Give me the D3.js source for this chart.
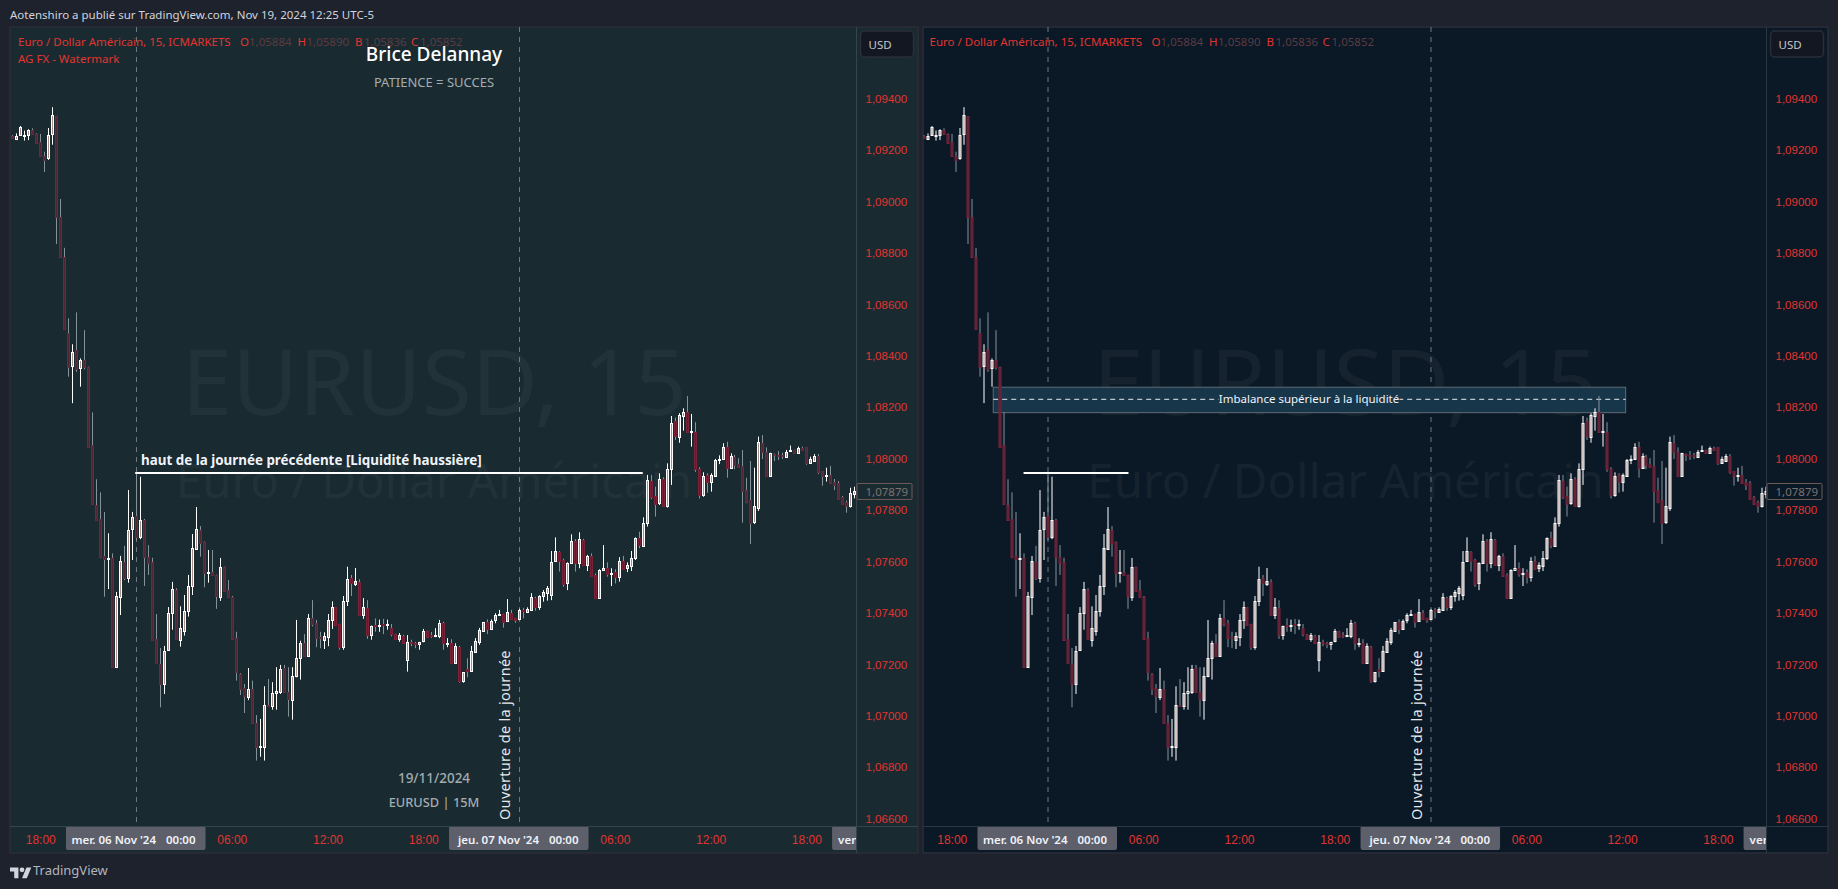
<!DOCTYPE html>
<html>
<head>
<meta charset="utf-8">
<script src="https://cdn.jsdelivr.net/npm/d3@7"></script>
<style>
  html, body { margin: 0; padding: 0; background: #1e222d; overflow: hidden; }
  svg { display: block; font-family: "Noto Sans", sans-serif; }
</style>
</head>
<body>
<svg id="chart"></svg>
<script>
// EURUSD 15 min candles, in 1/100000 of a dollar
const opens = [
  109256,109244,109259,109258,109259,109278,109261,109230,109178,109168,
  109261,109332,108941,108783,108487,108361,108422,108351,108384,108355,
  108052,107819,107765,107623,107609,107613,107190,107462,107598,107537,
  107726,107777,107697,107762,107617,107598,107299,107201,107125,107257,
  107399,107489,107296,107331,107409,107506,107650,107723,107675,107556,
  107559,107547,107461,107578,107489,107461,107302,107163,107107,107075,
  107104,106972,106881,106878,107043,107037,107089,107092,107185,107092,
  107063,107154,107224,107283,107234,107379,107361,107306,107296,107308,
  107373,107422,107357,107267,107448,107535,107514,107522,107393,107418,
  107314,107353,107353,107356,107355,107341,107317,107299,107312,107216,
  107286,107283,107278,107292,107329,107314,107313,107312,107361,107282,
  107282,107207,107267,107136,107181,107176,107249,107288,107330,107366,
  107338,107373,107391,107396,107370,107400,107380,107375,107412,107405,
  107412,107458,107422,107467,107479,107470,107602,107638,107605,107518,
  107593,107680,107596,107684,107588,107621,107547,107460,107566,107574,
  107553,107559,107541,107601,107576,107584,107615,107691,107662,107751,
  107913,107855,107827,107921,107817,107959,108147,108086,108167,108181,
  108105,108103,107959,107858,107936,107911,107934,107998,107998,108047,
  107965,108006,107978,107970,107877,107839,107755,107810,108060,108025,
  107934,108018,108016,108013,108008,108030,108033,108024,108042,108044,
  107985,107991,108011,107951,107936,107937,107910,107906,107850,107831,
  107816,107864
];
const highs = [
  109258,109265,109294,109276,109281,109285,109265,109263,109194,109286,
  109367,109333,109010,108820,108546,108445,108569,108390,108500,108358,
  108180,107920,107869,107793,107710,107632,107482,107622,107661,107878,
  107793,107944,107930,107766,107664,107615,107396,107264,107272,107423,
  107521,107496,107426,107470,107548,107707,107812,107738,107678,107645,
  107645,107549,107614,107580,107528,107466,107327,107166,107124,107186,
  107137,107003,106988,107115,107143,107131,107189,107198,107198,107189,
  107189,107373,107292,107318,107396,107450,107373,107327,107325,107396,
  107445,107423,107358,107466,107580,107548,107575,107531,107458,107450,
  107351,107379,107374,107377,107374,107357,107319,107322,107315,107314,
  107296,107288,107288,107338,107331,107326,107341,107373,107366,107302,
  107298,107282,107272,107170,107224,107272,107302,107342,107365,107375,
  107375,107399,107412,107397,107454,107412,107381,107416,107420,107422,
  107477,107463,107469,107489,107505,107641,107694,107640,107611,107597,
  107706,107687,107714,107688,107626,107632,107554,107570,107664,107597,
  107574,107570,107617,107622,107597,107641,107694,107716,107772,107937,
  107937,107891,107943,107928,107982,108166,108160,108177,108196,108244,
  108174,108142,107967,107947,107943,107943,107999,108013,108060,108066,
  108021,108015,108002,108034,107926,107991,107965,108086,108092,108044,
  108023,108020,108030,108023,108034,108051,108035,108047,108047,108045,
  108008,108018,108018,107952,107965,107972,107921,107913,107855,107837,
  107887,107891
];
const lows = [
  109244,109239,109255,109237,109239,109259,109224,109175,109115,109162,
  109221,108835,108783,108503,108319,108216,108338,108280,108347,108046,
  107824,107759,107613,107463,107493,107190,107190,107392,107528,107518,
  107606,107684,107687,107505,107548,107295,107202,107033,107085,107255,
  107335,107299,107269,107312,107386,107470,107645,107619,107500,107518,
  107547,107416,107447,107484,107460,107299,107137,107081,107011,107061,
  106972,106826,106841,106826,107036,107024,107024,107085,107092,106997,
  106985,107150,107141,107234,107233,107348,107267,107263,107260,107271,
  107338,107353,107257,107257,107427,107466,107505,107393,107377,107299,
  107296,107327,107327,107318,107335,107309,107298,107288,107280,107172,
  107271,107263,107257,107286,107307,107303,107306,107302,107257,107267,
  107206,107204,107129,107129,107150,107175,107248,107276,107327,107318,
  107337,107360,107390,107343,107369,107377,107362,107374,107379,107401,
  107411,107409,107412,107444,107448,107450,107601,107561,107502,107489,
  107592,107561,107574,107586,107563,107545,107460,107459,107565,107541,
  107505,107515,107522,107571,107559,107563,107606,107652,107661,107736,
  107843,107775,107820,107813,107810,107898,108073,108062,108109,108104,
  108047,107949,107845,107852,107868,107872,107933,107979,107997,107926,
  107960,107959,107966,107751,107827,107668,107746,107797,107999,107933,
  107930,107991,107995,107999,108007,108026,108023,108021,108034,107976,
  107984,107990,107941,107895,107911,107906,107878,107842,107820,107790,
  107810,107846
];
const closes = [
  109246,109255,109291,109260,109277,109261,109226,109177,109163,109259,
  109336,108941,108783,108503,108358,108414,108350,108382,108358,108046,
  107824,107762,107619,107609,107613,107190,107466,107602,107536,107723,
  107772,107694,107762,107619,107593,107296,107204,107125,107251,107399,
  107492,107299,107341,107407,107505,107652,107726,107671,107557,107558,
  107548,107465,107578,107484,107461,107299,107169,107104,107078,107104,
  106972,106880,106883,107041,107037,107089,107097,107182,107092,107065,
  107154,107225,107283,107234,107381,107357,107304,107303,107309,107373,
  107422,107354,107269,107448,107531,107515,107526,107393,107422,107314,
  107348,107350,107355,107353,107357,107318,107299,107313,107283,107286,
  107282,107281,107286,107329,107308,107310,107315,107360,107282,107284,
  107207,107272,107136,107169,107174,107252,107291,107334,107364,107338,
  107370,107391,107396,107366,107403,107378,107374,107412,107408,107416,
  107461,107422,107466,107482,107497,107600,107642,107603,107514,107593,
  107680,107596,107687,107586,107622,107545,107460,107567,107576,107553,
  107555,107540,107601,107572,107586,107613,107691,107664,107749,107917,
  107850,107824,107921,107817,107960,108138,108090,108169,108181,108105,
  108107,107961,107860,107933,107911,107936,107995,108000,108044,107965,
  108009,107977,107967,107876,107833,107751,107815,108064,108027,107934,
  108021,108014,108012,108009,108025,108032,108024,108042,108035,107985,
  107999,108011,107949,107934,107938,107907,107899,107843,107825,107817,
  107866,107874
];

// price axis
const priceTicks = [109400,109200,109000,108800,108600,108400,108200,108000,107800,107600,107400,107200,107000,106800,106600];
const priceLabels = ['1,09400','1,09200','1,09000','1,08800','1,08600','1,08400','1,08200','1,08000','1,07800','1,07600','1,07400','1,07200','1,07000','1,06800','1,06600'];

// time axis, positions are candle numbers
const hourTicks = [7,55,79,103,151,175,199];
const hourLabels = ['18:00','06:00','12:00','18:00','06:00','12:00','18:00'];
const dayTicks = [31,127,223];
const dayLabels = ["mer. 06 Nov '24","jeu. 07 Nov '24","ven. 08 Nov '24"];

const legendValues = ['1,05884','1,05890','1,05836','1,05852'];
const legendKeys = ['O','H','B','C'];

const width = 1838;
const height = 889;
const red = '#e0352f';

const svg = d3.select('#chart').attr('width', width).attr('height', height);
svg.append('rect').attr('width', width).attr('height', height).attr('fill', '#1e222d');

// Top and bottom strips
svg.append('text').attr('x', 10).attr('y', 19).attr('fill', '#d1d4dc').attr('font-size', 11.5)
  .text('Aotenshiro a publié sur TradingView.com, Nov 19, 2024 12:25 UTC-5');

let logo = svg.append('g').attr('transform', 'translate(10,865) scale(0.6)').attr('fill', '#d1d4dc');
logo.append('path').attr('d', 'M14 22H7V11H0V4h14v18zM28 22h-8l7.5-18h8L28 22z');
logo.append('circle').attr('cx', 20).attr('cy', 8).attr('r', 4);
svg.append('text').attr('x', 33).attr('y', 875).attr('fill', '#b2b5be').attr('font-size', 13).text('TradingView');

const y = d3.scaleLinear().domain([109400, 106600]).range([98.7, 818.7]);
const x = d3.scaleLinear().domain([0, 211]).range([12.3, 854.2]);

function drawPane(id, dx, paneLeft, paneRight, axisX, colors) {
  let pane = svg.append('g');
  let plotW = axisX - paneLeft;

  pane.append('rect').attr('x', paneLeft).attr('y', 27).attr('width', paneRight - paneLeft).attr('height', 826)
    .attr('fill', colors.bg).attr('stroke', '#2a2e39').attr('stroke-width', 1.5);

  svg.append('clipPath').attr('id', id).append('rect')
    .attr('x', paneLeft).attr('y', 27).attr('width', plotW).attr('height', 826);

  let plot = pane.append('g').attr('clip-path', 'url(#' + id + ')');
  let g = plot.append('g').attr('transform', 'translate(' + dx + ',0)');

  // Big watermark behind everything
  g.append('text').attr('x', 434).attr('y', 415).attr('text-anchor', 'middle')
    .attr('font-size', 91).attr('fill', colors.mark).text('EURUSD, 15');
  g.append('text').attr('x', 434).attr('y', 498).attr('text-anchor', 'middle')
    .attr('font-size', 47.5).attr('fill', colors.mark).text('Euro / Dollar Américain');

  // Day separators
  g.selectAll('.sep').data(dayTicks.slice(0, 2)).enter().append('line')
    .attr('x1', d => Math.round(x(d)) + 0.5).attr('x2', d => Math.round(x(d)) + 0.5)
    .attr('y1', 27).attr('y2', 826)
    .attr('stroke', '#6f7a80').attr('stroke-dasharray', '5,5');

  return { pane: pane, plot: plot, g: g, dx: dx, axisX: axisX, paneLeft: paneLeft, paneRight: paneRight, colors: colors };
}

function drawCandles(p) {
  let candles = p.g.append('g').selectAll('g').data(opens).enter().append('g');

  // wicks
  candles.append('line')
    .attr('x1', (d, i) => Math.round(x(i)) + 0.5).attr('x2', (d, i) => Math.round(x(i)) + 0.5)
    .attr('y1', (d, i) => y(highs[i])).attr('y2', (d, i) => y(lows[i]))
    .attr('stroke', (d, i) => closes[i] >= d ? '#ffffff' : '#84939a');

  // bodies
  candles.append('rect')
    .attr('x', (d, i) => Math.round(x(i)) - 0.5)
    .attr('y', (d, i) => Math.round(y(Math.max(d, closes[i]))) + 0.5)
    .attr('width', 2)
    .attr('height', (d, i) => Math.max(1, Math.round(y(Math.min(d, closes[i]))) - Math.round(y(Math.max(d, closes[i])))))
    .attr('fill', (d, i) => closes[i] >= d ? '#a98f88' : '#4f2536')
    .attr('stroke', (d, i) => closes[i] >= d ? '#ffffff' : '#7a2338')
    .attr('stroke-width', 1);
}

function drawAxes(p) {
  let c = p.colors;

  // Time axis
  p.pane.append('line').attr('x1', p.paneLeft).attr('x2', p.paneRight).attr('y1', 826.5).attr('y2', 826.5).attr('stroke', c.line);

  let timeAxis = d3.axisBottom(x).tickValues(hourTicks).tickSize(0)
    .tickFormat(d => hourLabels[hourTicks.indexOf(d)]);
  let tg = p.g.append('g').attr('transform', 'translate(0,826)').call(timeAxis);
  tg.select('.domain').remove();
  tg.selectAll('text').attr('fill', red).attr('font-size', 12).attr('font-family', 'inherit').attr('dy', 0).attr('y', 18);

  dayTicks.forEach((d, i) => {
    let cx = x(d);
    p.g.append('rect').attr('x', cx - 70).attr('y', 826).attr('width', 139.5).attr('height', 24).attr('rx', 2).attr('fill', '#5d606b');
    p.g.append('text').attr('x', cx + 20).attr('y', 844).attr('text-anchor', 'end').attr('fill', '#f0f3fa').attr('font-size', 11.5).attr('font-weight', 600).text(dayLabels[i]);
    p.g.append('text').attr('x', cx + 30).attr('y', 844).attr('fill', '#f0f3fa').attr('font-size', 11.5).attr('font-weight', 600).text('00:00');
  });

  // Price axis
  p.pane.append('line').attr('x1', p.axisX).attr('x2', p.axisX).attr('y1', 27).attr('y2', 853).attr('stroke', c.line);

  let priceAxis = d3.axisRight(y).tickValues(priceTicks).tickSize(0)
    .tickFormat(d => priceLabels[priceTicks.indexOf(d)]);
  let ag = p.pane.append('g').attr('transform', 'translate(' + (p.axisX + 9) + ',0)').call(priceAxis);
  ag.select('.domain').remove();
  ag.selectAll('text').attr('fill', red).attr('font-size', 11.5).attr('font-family', 'inherit').attr('x', 0);

  // USD button
  p.pane.append('rect').attr('x', p.axisX + 4).attr('y', 31).attr('width', 53).attr('height', 26).attr('rx', 4)
    .attr('fill', '#131722').attr('stroke', '#2a2e39').attr('stroke-width', 1.5);
  p.pane.append('text').attr('x', p.axisX + 12).attr('y', 49).attr('fill', '#c3c6ce').attr('font-size', 11.5).text('USD');

  // Last price tag
  p.pane.append('rect').attr('x', p.axisX + 0.5).attr('y', 483.5).attr('width', 55).attr('height', 16).attr('rx', 1)
    .attr('fill', c.bg).attr('stroke', '#6e5a55');
  p.pane.append('text').attr('x', p.axisX + 9).attr('y', 495.5).attr('fill', '#7a7470').attr('font-size', 11.5).text('1,07879');

  // Legend line
  let lg = p.plot.append('g').attr('transform', 'translate(' + p.dx + ',0)').attr('font-size', 11.5);
  lg.append('text').attr('x', 18).attr('y', 45.5).attr('fill', red).text('Euro / Dollar Américain, 15, ICMARKETS');
  let keyX = [240, 297.5, 355, 411];
  legendKeys.forEach((k, i) => {
    lg.append('text').attr('x', keyX[i]).attr('y', 45.5).attr('fill', red).text(k);
    lg.append('text').attr('x', keyX[i] + 9).attr('y', 45.5).attr('fill', '#5c3b40').text(legendValues[i]);
  });
}

const left = drawPane('clipL', 0, 10, 918, 856.5, { bg: '#1a2a31', mark: '#223239', line: '#34454d' });
const right = drawPane('clipR', 911.5, 923, 1828, 1766.5, { bg: '#0b1826', mark: '#16232f', line: '#2a3744' });

// Left pane drawings that sit under the candles
left.g.append('text').attr('x', 434).attr('y', 61).attr('text-anchor', 'middle').attr('fill', '#ffffff').attr('font-size', 19).attr('font-weight', 500).text('Brice Delannay');
left.g.append('text').attr('x', 434).attr('y', 87).attr('text-anchor', 'middle').attr('fill', '#a3adb0').attr('font-size', 13).text('PATIENCE = SUCCES');
left.g.append('text').attr('x', 434).attr('y', 783).attr('text-anchor', 'middle').attr('fill', '#a3adb0').attr('font-size', 13.5).attr('font-weight', 500).text('19/11/2024');
left.g.append('text').attr('x', 434).attr('y', 807).attr('text-anchor', 'middle').attr('fill', '#a3adb0').attr('font-size', 12.8).attr('font-weight', 500).text('EURUSD | 15M');
left.g.append('text').attr('x', 141).attr('y', 465).attr('fill', '#f0f3fa').attr('font-weight', 700).attr('font-size', 13.4).text('haut de la journée précédente [Liquidité haussière]');

// Imbalance box in the right pane goes under the candles too
const boxTop = 108278, boxBottom = 108179, boxMid = 108231;
const boxStart = 17.4, boxEnd = 175.9;
right.g.append('rect')
  .attr('x', x(boxStart)).attr('width', x(boxEnd) - x(boxStart))
  .attr('y', y(boxTop)).attr('height', y(boxBottom) - y(boxTop))
  .attr('fill', '#18364a').attr('stroke', '#5e6c74');
right.g.append('line').attr('x1', x(boxStart)).attr('x2', x(boxEnd)).attr('y1', y(boxMid)).attr('y2', y(boxMid))
  .attr('stroke', '#e8eaed').attr('stroke-dasharray', '5,4');

drawCandles(left);
drawCandles(right);

// label on top of the box midline
right.g.append('rect').attr('x', 307).attr('y', y(boxMid) - 8).attr('width', 181).attr('height', 16).attr('fill', '#18364a');
right.g.append('text').attr('x', 397.5).attr('y', y(boxMid) + 4).attr('text-anchor', 'middle').attr('fill', '#f0f3fa').attr('font-size', 11.5).text('Imbalance supérieur à la liquidité');

// Previous-day high lines
const dayHigh = 107944;
left.g.append('line').attr('x1', x(30.8)).attr('x2', x(158)).attr('y1', y(dayHigh)).attr('y2', y(dayHigh)).attr('stroke', '#ffffff').attr('stroke-width', 2);
right.g.append('line').attr('x1', x(25)).attr('x2', x(51.3)).attr('y1', y(dayHigh)).attr('y2', y(dayHigh)).attr('stroke', '#ffffff').attr('stroke-width', 2);

// Vertical notes next to the day open
[left, right].forEach(p => {
  p.g.append('text').attr('transform', 'translate(510,820) rotate(-90)').attr('fill', '#e6e9ec')
    .attr('font-size', 14.5).attr('letter-spacing', 0.3).text('Ouverture de la journée');
});

left.plot.append('text').attr('x', 18).attr('y', 62.5).attr('fill', red).attr('font-size', 11.5).text('AG FX - Watermark');

drawAxes(left);
drawAxes(right);
</script>
</body>
</html>
